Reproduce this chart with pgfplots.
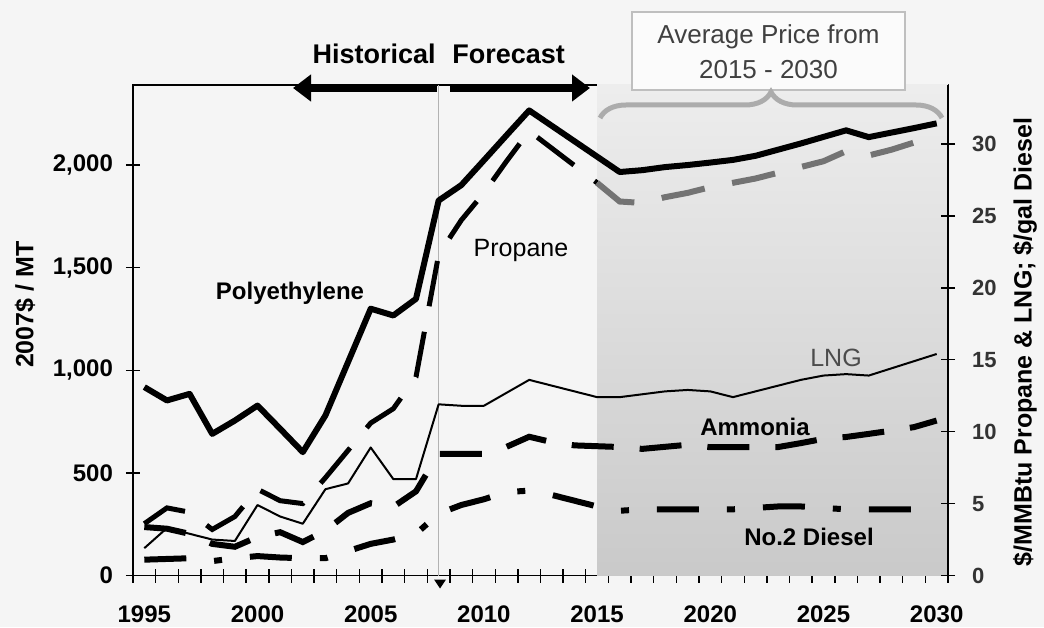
\documentclass[border=0pt]{standalone}
\usepackage{fontspec}
\setmainfont{Liberation Sans}
\usepackage{pgfplots}
\usepackage{pgfplotstable}
\pgfplotsset{compat=1.18}
\usetikzlibrary{arrows.meta,decorations.pathreplacing}

% prices in 2007$/MT (left axis)
\pgfplotstableread{
year poly ammonia
1995 918 236
1996 853 228
1997 885 203
1998 690 154
1999 755 140
2000 828 188
2001 715 211
2002 601 163
2003 780 219
2004 1040 305
2005 1300 352
2006 1267 335
2007 1348 410
2008 1827 593
2009 1902 593
2010 2023 593
2011 2145 627
2012 2266 676
2013 2191 650
2014 2116 634
2015 2041 630
2016 1966 626
2017 1975 617
2018 1990 627
2019 2000 637
2020 2012 625
2021 2025 625
2022 2045 625
2023 2075 626
2024 2105 645
2025 2137 666
2026 2169 675
2027 2136 690
2028 2158 706
2029 2180 723
2030 2203 755
}\lefttab

% $/MMBtu propane & LNG, $/gal diesel (right axis)
\pgfplotstableread{
year propane lng diesel
1995 3.6 1.9 1.1
1996 4.7 3.3 1.15
1997 4.4 2.9 1.2
1998 3.2 2.5 1.0
1999 4.1 2.4 1.2
2000 6.0 4.9 1.35
2001 5.2 4.1 1.25
2002 5.0 3.6 1.2
2003 6.8 6.0 1.2
2004 8.7 6.4 1.7
2005 10.6 8.9 2.2
2006 11.6 6.7 2.5
2007 13.8 6.7 2.9
2008 22.3 11.9 4.3
2009 24.7 11.8 4.9
2010 26.6 11.8 5.3
2011 28.8 12.7 5.8
2012 30.9 13.6 5.9
2013 29.7 13.2 5.6
2014 28.5 12.8 5.2
2015 27.3 12.4 4.8
2016 26.0 12.4 4.5
2017 25.9 12.6 4.6
2018 26.3 12.8 4.6
2019 26.6 12.9 4.6
2020 27.0 12.8 4.6
2021 27.3 12.4 4.6
2022 27.6 12.8 4.7
2023 28.0 13.2 4.8
2024 28.4 13.6 4.8
2025 28.8 13.9 4.7
2026 29.5 14.0 4.6
2027 29.2 13.9 4.6
2028 29.6 14.4 4.6
2029 30.1 14.9 4.6
2030 30.6 15.4 4.6
}\righttab

\newcommand{\fs}[1]{\fontsize{#1}{#1}\selectfont}

\begin{document}
\begin{tikzpicture}[x=1pt,y=1pt]
\fill[gray!8] (-66.5,-25.75) rectangle (455.5,287.75);
\useasboundingbox (-66.5,-25.75) rectangle (455.5,287.75);

\pgfplotsset{
  base/.style={
    at={(0,0)}, anchor=south west,
    width=407.5pt, height=245.25pt, scale only axis,
    xmin=1994.5, xmax=2030.5,
    tick align=center,
    /pgf/number format/assume math mode=true,
    axis line style={black, line width=0.8pt},
  },
}

\begin{axis}[base,
  ymin=0, ymax=2390,
  xtick pos=bottom, ytick pos=left,
  xtick={1995,2000,...,2030},
  xticklabels={1995,2000,2005,2010,2015,2020,2025,2030},
  minor xtick={1994.5,1995.5,...,2030.5},
  major x tick style={draw=none},
  minor x tick style={black, line width=0.7pt},
  minor tick length=7pt,
  major tick length=7pt,
  ytick={0,500,...,2000},
  y tick style={black, line width=0.7pt},
  xticklabel style={font=\bfseries\fs{12}, yshift=-8pt},
  yticklabel style={font=\bfseries\fs{12}, xshift=-3pt,
    /pgf/number format/1000 sep={,}},
  ylabel={2007\$ / MT},
  ylabel style={font=\bfseries\fs{12.5}, at={(axis description cs:-0.1325,0.552)},
    anchor=center, rotate=0},
]
\fill[top color=gray!14, bottom color=gray!42, draw=none]
  (axis cs:2015,0) rectangle (axis cs:2030.5,2390);
\draw[gray!60, line width=0.8pt] (axis cs:2008,0) -- (axis cs:2008,2390);
\addplot[black, line width=3pt, line join=round] table[x=year, y=poly] {\lefttab};
\addplot[black, line width=3pt, dash pattern=on 21pt off 13pt] table[x=year, y=ammonia] {\lefttab};
\end{axis}

\begin{axis}[base,
  ymin=0, ymax=34.1,
  axis y line*=right, axis x line=none,
  ytick={0,5,...,30},
  major tick length=7pt,
  y tick style={black, line width=0.7pt},
  yticklabel style={font=\bfseries\fs{11}, text=black!80, xshift=5pt},
  ylabel={\$/MMBtu Propane \& LNG; \$/gal Diesel},
  ylabel style={font=\bfseries\fs{12.5}, at={(axis description cs:1.0945,0.476)},
    anchor=center, rotate=0},
]
\addplot[black, line width=2.5pt, dash pattern=on 23pt off 13pt,
  restrict x to domain=1995:2015] table[x=year, y=propane] {\righttab};
\addplot[black!55, line width=3pt, dash pattern=on 22pt off 14pt,
  restrict x to domain=2015:2030] table[x=year, y=propane] {\righttab};
\addplot[black, line width=1pt, line join=round] table[x=year, y=lng] {\righttab};
\addplot[black, line width=3pt, dash pattern=on 21pt off 14pt on 4pt off 14pt]
  table[x=year, y=diesel] {\righttab};
\end{axis}

% annotations
\draw[line width=4pt, -{Triangle[length=9pt, width=13pt]}] (152,243.75) -- (80,243.75);
\draw[line width=4pt, -{Triangle[length=9pt, width=13pt]}] (158.5,243.75) -- (228.5,243.75);
\node[anchor=base east, font=\bfseries\fs{13.5}, inner sep=0] at (151.5,256) {Historical};
\node[anchor=base west, font=\bfseries\fs{13.5}, inner sep=0] at (159.5,256) {Forecast};
\draw[gray!50, fill=gray!3, line width=0.8pt] (249.5,242.75) rectangle (386,281.75);
\node[font=\fs{13}, text=black!75] at (317.75,269.25) {Average Price from};
\node[font=\fs{13}, text=black!75] at (317.75,252.75) {2015 - 2030};
\draw[gray!65, line width=2.5pt, decorate, decoration={brace, amplitude=13pt}]
  (233.5,228.75) -- (404.5,228.75);
\fill[black] (150.5,-2) -- (156.5,-2) -- (153.5,-6.5) -- cycle;

\node[font=\bfseries\fs{12}] at (78.5,141.25) {Polyethylene};
\node[font=\fs{12.5}] at (194,162.75) {Propane};
\node[font=\fs{12.5}, text=black!70] at (351.5,108.75) {LNG};
\node[font=\bfseries\fs{12}] at (311,74.25) {Ammonia};
\node[font=\bfseries\fs{12}] at (338,19.25) {No.2 Diesel};
\end{tikzpicture}
\end{document}
